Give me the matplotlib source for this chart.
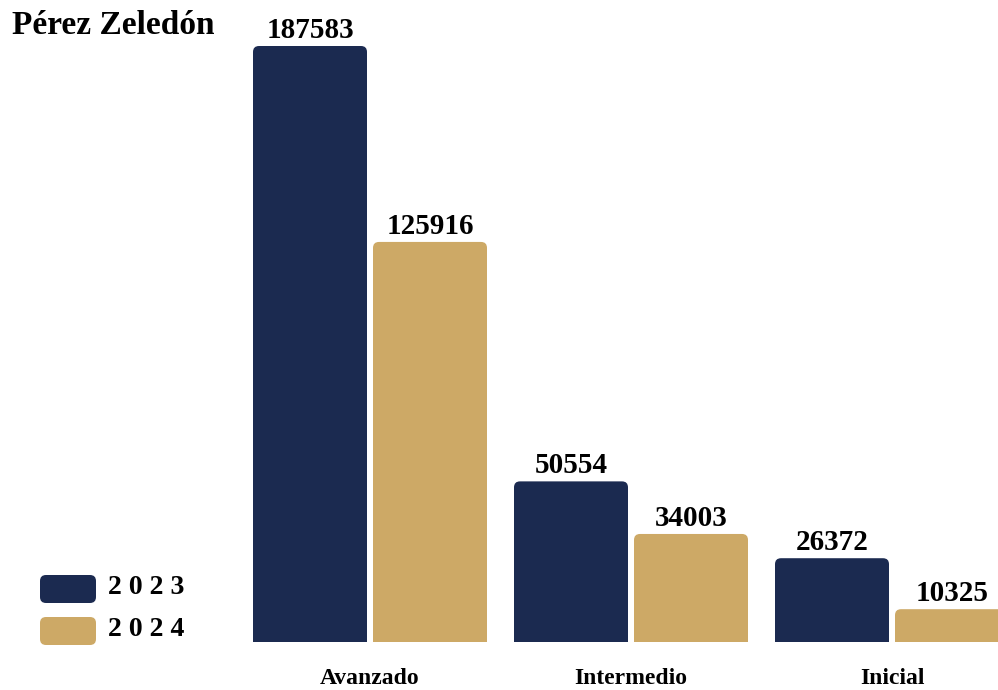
import matplotlib
matplotlib.use("Agg")
import matplotlib.pyplot as plt
from matplotlib.patches import FancyBboxPatch
import numpy as np

plt.rcParams['font.family'] = ['Liberation Serif', 'DejaVu Serif']
plt.rcParams['font.weight'] = 'bold'

title = 'Pérez Zeledón'
categories = ['Avanzado', 'Intermedio', 'Inicial']
years = ['2023', '2024']
values_2023 = [187583, 50554, 26372]
values_2024 = [125916, 34003, 10325]
colors = ['#1B2A50', '#CDA966']

fig = plt.figure(figsize=(9.98, 6.9), dpi=100)
ax = fig.add_axes([0, 48 / 690, 1, 642 / 690])

x = np.arange(len(categories))
w = 114 / 261
off = 60 / 261

ax.set_xlim(-370 / 261, (998 - 370) / 261)
ymax = 642 / 596 * 187583
ax.set_ylim(0, ymax)

# rounded top corners: radius in px converted to data units
r_px = 6
rx = r_px / 261
ry = r_px * ymax / 642

for i, (vals, col) in enumerate(zip([values_2023, values_2024], colors)):
    bars = ax.bar(x + (i * 2 - 1) * off, vals, w, color=col)
    for b in bars:
        bx, bw, bh = b.get_x(), b.get_width(), b.get_height()
        b.remove()
        p = FancyBboxPatch((bx, -ymax * 0.05), bw, bh + ymax * 0.05,
                           boxstyle=f'round,pad=0,rounding_size={rx}',
                           mutation_aspect=ry / rx, facecolor=col,
                           edgecolor='none')
        ax.add_patch(p)
        ax.annotate(f'{bh:.0f}', (bx + bw / 2, bh), xytext=(0, 1.5),
                    textcoords='offset points', ha='center', va='bottom',
                    fontsize=21, fontweight='bold')

ax.set_xticks(x, categories, fontsize=17, fontweight='bold')
ax.tick_params(axis='x', length=0, pad=19)
ax.set_yticks([])
for s in ax.spines.values():
    s.set_visible(False)

fig.text(12 / 998, 1 - 25 / 690, title, fontsize=24, fontweight='bold',
         va='center', ha='left')

# legend drawn by hand with rounded swatches
for k, (yr, col) in enumerate(zip(years, colors)):
    yc = 589 + k * 42
    sw = FancyBboxPatch((40 / 998, 1 - (yc + 14) / 690), 56 / 998, 28 / 690,
                        boxstyle='round,pad=0,rounding_size=0.006',
                        mutation_aspect=998 / 690,
                        transform=fig.transFigure, facecolor=col,
                        edgecolor='none')
    fig.add_artist(sw)
    fig.text(108 / 998, 1 - (yc - 1) / 690, ' '.join(yr), fontsize=20,
             fontweight='bold', va='center', ha='left')

fig.savefig('out.png', dpi=100)
